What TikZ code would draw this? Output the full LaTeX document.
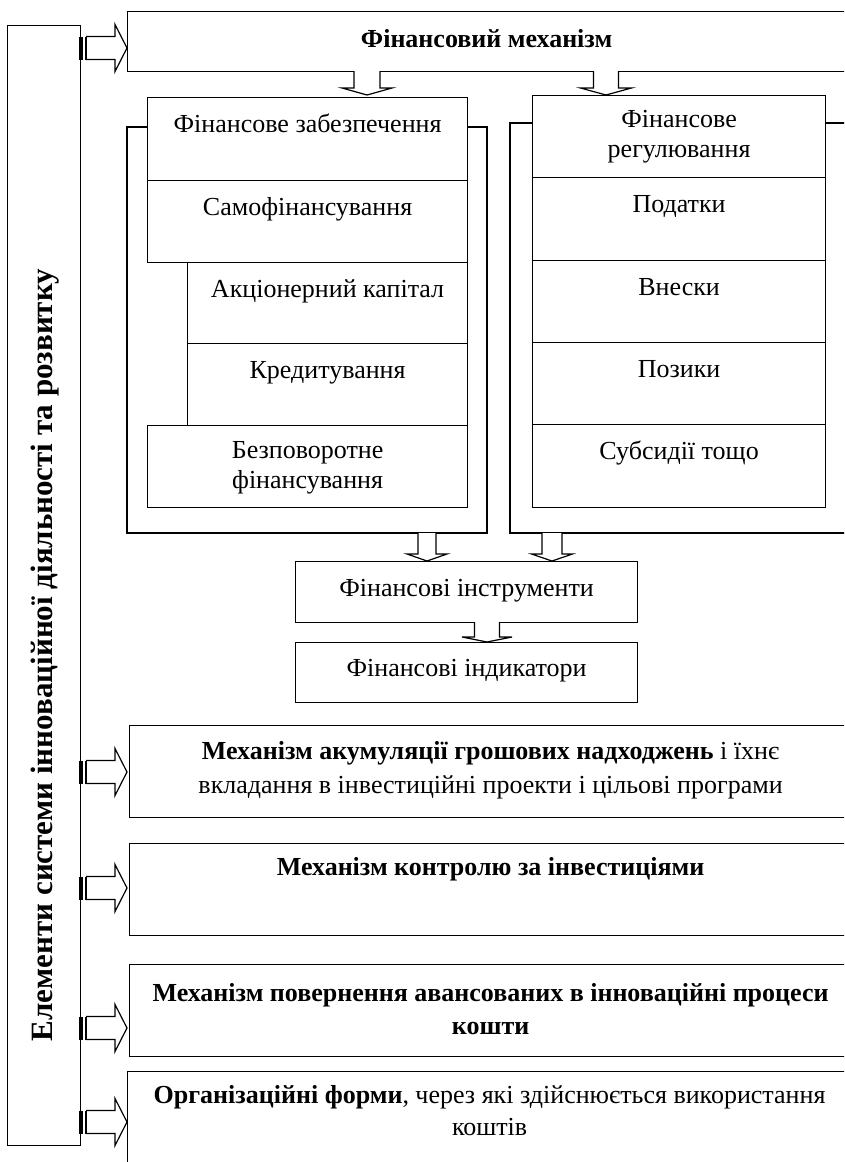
\documentclass[tikz,border=0pt]{standalone}
\usepackage{fontspec}
\setmainfont{Liberation Serif}
\newcommand\fs{\fontsize{26}{30}\selectfont}
\newcommand\rsarrow[1]{%
  \fill (78.5,#1-11.5) rectangle (83.3,#1+11.5);
  \draw[line width=1.8pt] (86,#1-11.5) -- (86,#1+11.5);
  \draw[ln] (86,#1-11.5) -- (115,#1-11.5) -- (115,#1-23.5) -- (127,#1) -- (115,#1+23.5) -- (115,#1+11.5) -- (86,#1+11.5);
}
% xc, ytop, ybase, ytip, shaft half, head half
\newcommand\dnarrow[6]{%
  \draw[ln,fill=white] (#1-#5,#2) -- (#1-#5,#3) -- (#1-#6,#3) -- (#1,#4) -- (#1+#6,#3) -- (#1+#5,#3) -- (#1+#5,#2);
}
\tikzset{
  ln/.style={line width=1.2pt, line join=miter},
  box/.style={draw, line width=1.2pt, inner sep=0pt, anchor=north west},
  txt/.style={inner sep=0pt, font=\fs, align=center, anchor=north},
}
\begin{document}
\begin{tikzpicture}[x=1pt,y=-1pt]
\useasboundingbox (0,0) rectangle (844,1162);
\clip (0,0) rectangle (844,1162);
\fill[white] (0,0) rectangle (844,1162);

% left vertical box
\node[box, minimum width=73pt, minimum height=1120pt] (E) at (7,25) {};
\node[font=\fontsize{31}{36}\selectfont\bfseries, rotate=90, inner sep=0pt] (Et) at (45,655) {Елементи системи інноваційної діяльності та розвитку};

% top box
\node[box, minimum width=718pt, minimum height=60pt] (FM) at (127,11) {};
\node[txt, font=\fs\bfseries] (FMt) at ([yshift=-15pt]FM.north) {\strut Фінансовий механізм};

% left group bracket
\draw[ln] (147,127) -- (127,127) -- (127,533) -- (487,533) -- (487,127) -- (467,127);
\node[box, minimum width=320pt, minimum height=83pt] (fz) at (147,97) {};
\node[box, minimum width=320pt, minimum height=82pt] (sf) at (147,180) {};
\node[box, minimum width=280pt, minimum height=81pt] (ak) at (187,262) {};
\node[box, minimum width=280pt, minimum height=82pt] (kr) at (187,343) {};
\node[box, minimum width=320pt, minimum height=82pt] (bz) at (147,425) {};
\node[txt] (fzt) at ([yshift=-14pt]fz.north) {\strut Фінансове забезпечення};
\node[txt] (sft) at ([yshift=-14pt]sf.north) {\strut Самофінансування};
\node[txt] (akt) at ([yshift=-14pt]ak.north) {\strut Акціонерний капітал};
\node[txt] (krt) at ([yshift=-14pt]kr.north) {\strut Кредитування};
\node[txt] (bzt) at ([yshift=-12pt]bz.north) {\strut Безповоротне\\фінансування};

% right group bracket
\draw[ln] (532,123) -- (510,123) -- (510,533) -- (860,533);
\draw[ln] (825,123) -- (860,123);
\node[box, minimum width=293pt, minimum height=82pt] (fr) at (532,95) {};
\node[box, minimum width=293pt, minimum height=83pt] (pd) at (532,177) {};
\node[box, minimum width=293pt, minimum height=82pt] (vn) at (532,260) {};
\node[box, minimum width=293pt, minimum height=82pt] (pz) at (532,342) {};
\node[box, minimum width=293pt, minimum height=83pt] (sb) at (532,424) {};
\node[txt] (frt) at ([yshift=-11pt]fr.north) {\strut Фінансове\\регулювання};
\node[txt] (pdt) at ([yshift=-14pt]pd.north) {\strut Податки};
\node[txt] (vnt) at ([yshift=-14pt]vn.north) {\strut Внески};
\node[txt] (pzt) at ([yshift=-14pt]pz.north) {\strut Позики};
\node[txt] (sbt) at ([yshift=-14pt]sb.north) {\strut Субсидії тощо};

% instruments / indicators
\node[box, minimum width=342pt, minimum height=61pt] (Fi) at (295,561) {};
\node[box, minimum width=342pt, minimum height=60pt] (Fd) at (295,642) {};
\node[txt] (Fit) at ([yshift=-14pt]Fi.north) {\strut Фінансові інструменти};
\node[txt] (Fdt) at ([yshift=-13pt]Fd.north) {\strut Фінансові індикатори};

% bottom boxes
\node[box, minimum width=722pt, minimum height=92pt] (B1) at (129,725) {};
\node[box, minimum width=722pt, minimum height=92pt] (B2) at (129,843) {};
\node[box, minimum width=722pt, minimum height=92pt] (B3) at (129,964) {};
\node[box, minimum width=724pt, minimum height=120pt] (B4) at (127,1071) {};
\node[txt, font=\fontsize{26}{34}\selectfont] (B1t) at ([yshift=-10pt]B1.north) {\strut\textbf{Механізм акумуляції грошових надходжень} і їхнє\\вкладання в інвестиційні проекти і цільові програми};
\node[txt] (B2t) at ([yshift=-11pt]B2.north) {\strut\textbf{Механізм контролю за інвестиціями}};
\node[txt, font=\fontsize{26}{33}\selectfont] (B3t) at ([yshift=-14pt]B3.north) {\strut\textbf{Механізм повернення авансованих в інноваційні процеси}\\\textbf{кошти}};
\node[txt, font=\fontsize{26}{32}\selectfont] (B4t) at ([yshift=-10pt]B4.north) {\strut\textbf{Організаційні форми}, через які здійснюється використання\\коштів};

% down arrows
\dnarrow{367}{71}{88}{95}{13}{25}
\dnarrow{606}{71}{88}{95}{12.5}{25.5}
\dnarrow{427}{533}{554}{561}{9}{20}
\dnarrow{552}{533}{554}{561}{10}{20.5}
\dnarrow{487}{622}{637}{642}{12.5}{25}

% right striped arrows
\rsarrow{48}
\rsarrow{772}
\rsarrow{888}
\rsarrow{1028}
\rsarrow{1122}
\end{tikzpicture}
\end{document}
